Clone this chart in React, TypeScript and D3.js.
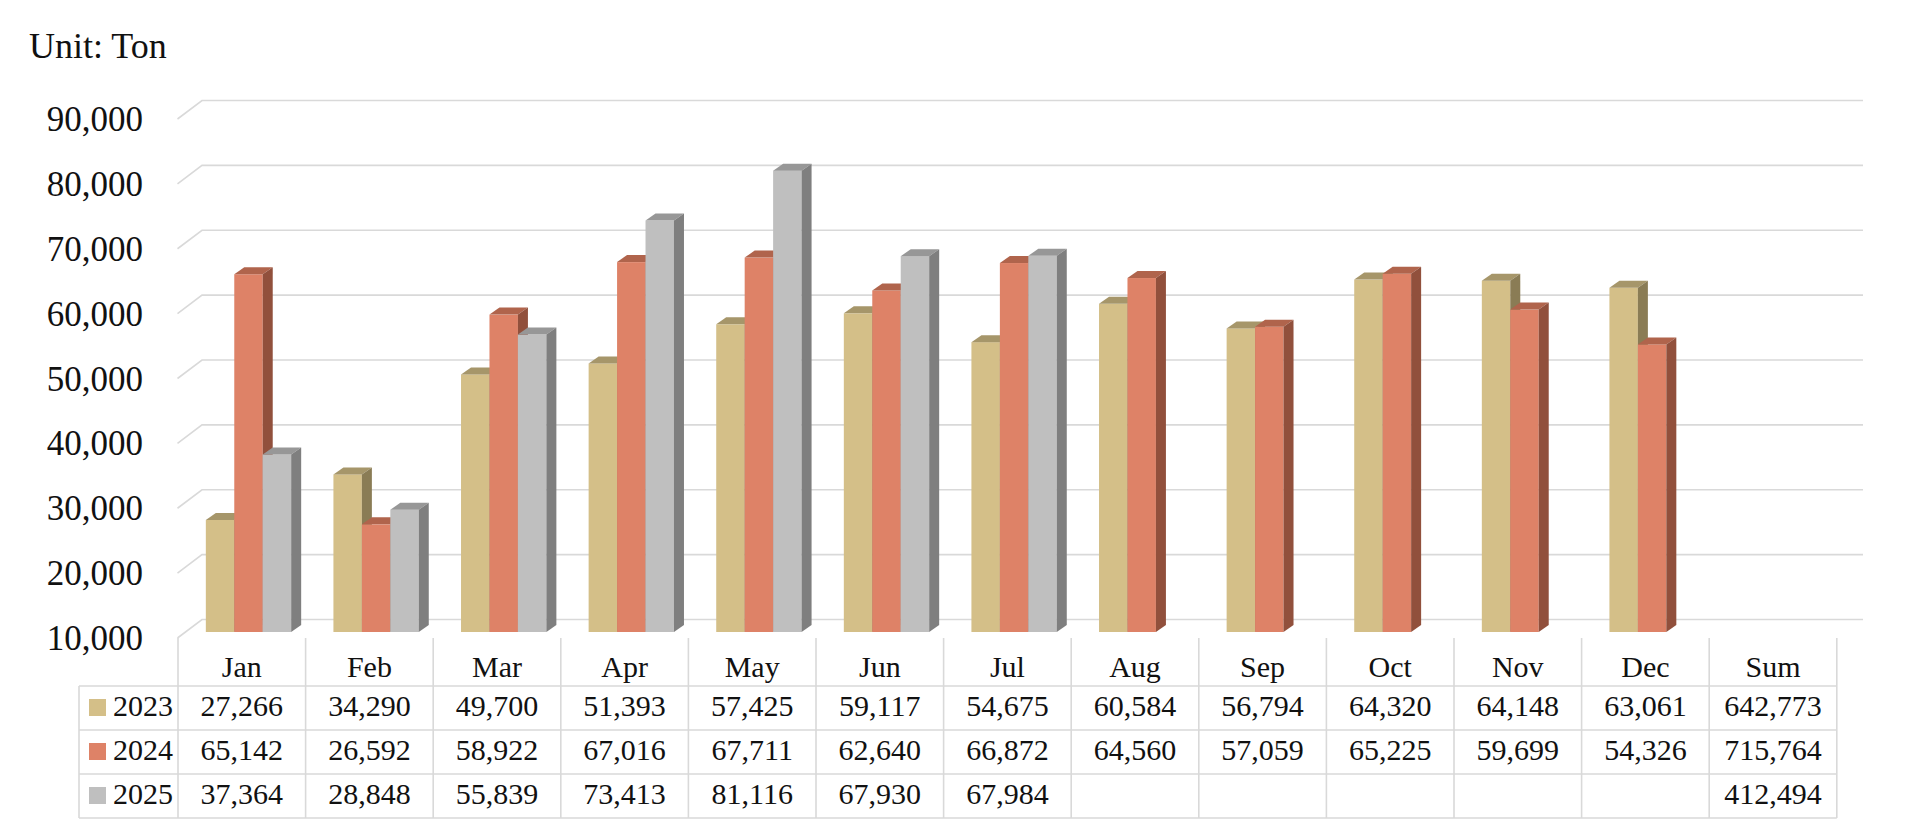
import React from "react";
import * as d3 from "d3";

const months = ["Jan","Feb","Mar","Apr","May","Jun","Jul","Aug","Sep","Oct","Nov","Dec"];
const series = ["2023","2024","2025"];
const v2023: (number|null)[] = [27266,34290,49700,51393,57425,59117,54675,60584,56794,64320,64148,63061];
const v2024: (number|null)[] = [65142,26592,58922,67016,67711,62640,66872,64560,57059,65225,59699,54326];
const v2025: (number|null)[] = [37364,28848,55839,73413,81116,67930,67984,null,null,null,null,null];
const sums = ["642,773","715,764","412,494"];
const yTicks = [10000,20000,30000,40000,50000,60000,70000,80000,90000];

const values = [v2023, v2024, v2025];
const colors = [
  { front: "#D4BF88", top: "#A6966A", side: "#8A7C55" },
  { front: "#DE8267", top: "#B0644C", side: "#91503C" },
  { front: "#BFBFBF", top: "#979797", side: "#7F7F7F" },
];

const FONT = "'Liberation Serif', 'DejaVu Serif', serif";

export default function App() {
  const W = 1920, H = 832;
  const yBack = d3.scaleLinear().domain([10000, 90000]).range([619.5, 100.5]);
  const depthX = 24.5, depthY = 18.5;
  const yBar = d3.scaleLinear().domain([10000, 90000]).range([632, 632 - 519]);
  const colW = 127.6;
  const tableX0 = 178;
  const barPlaneX0 = 184.7;
  const xCat = d3.scaleBand<string>().domain(months).range([barPlaneX0, barPlaneX0 + colW * 12]).padding(0);
  const barW = 28.45;
  const xSer = d3.scaleBand<string>().domain(series).range([0, barW * 3]).padding(0);
  const groupOff = (xCat.bandwidth() - barW * 3) / 2;
  const bdx = 10, bdy = 7;
  const gridRight = 1863;

  const rowTop = 686, rowH = 44;
  const tableCols = [...months, "Sum"];
  const tableRight = tableX0 + colW * tableCols.length;
  const fmt = d3.format(",");

  const bars: React.ReactNode[] = [];
  months.forEach((m, i) => {
    series.forEach((s, j) => {
      const v = values[j][i];
      if (v == null) return;
      const x = (xCat(m) as number) + groupOff + (xSer(s) as number);
      const y = yBar(v);
      const b = yBar(10000);
      const c = colors[j];
      bars.push(
        <g key={m + s}>
          <rect x={x} y={y} width={barW} height={b - y} fill={c.front} />
          <polygon points={`${x},${y} ${x + barW},${y} ${x + barW + bdx},${y - bdy} ${x + bdx},${y - bdy}`} fill={c.top} />
          <polygon points={`${x + barW},${y} ${x + barW + bdx},${y - bdy} ${x + barW + bdx},${b - bdy} ${x + barW},${b}`} fill={c.side} />
        </g>
      );
    });
  });

  return (
    <svg width={W} height={H} style={{ display: "block", position: "absolute", left: 0, top: 0 }} fontFamily={FONT}>
      <rect width={W} height={H} fill="#fff" />
      <text x={29} y={58} fontSize={36} fill="#111">Unit: Ton</text>
      {yTicks.map((t) => {
        const y = yBack(t);
        return (
          <g key={t}>
            <polyline points={`${tableX0 - 0.5},${y + depthY} ${tableX0 - 0.5 + depthX},${y} ${gridRight},${y}`} fill="none" stroke="#D9D9D9" strokeWidth={1.6} />
            <text x={143} y={y + depthY + 12} fontSize={35} textAnchor="end" fill="#111">{fmt(t)}</text>
          </g>
        );
      })}
      {bars}
      <g stroke="#D9D9D9" strokeWidth={1.6} fill="none">
        {d3.range(tableCols.length + 1).map((k) => (
          <line key={"v" + k} x1={tableX0 + k * colW} x2={tableX0 + k * colW} y1={yBack(10000) + depthY} y2={rowTop + rowH * 3} />
        ))}
        <line x1={79} x2={79} y1={rowTop} y2={rowTop + rowH * 3} />
        {d3.range(4).map((r) => (
          <line key={"h" + r} x1={79} x2={tableRight} y1={rowTop + r * rowH} y2={rowTop + r * rowH} />
        ))}
      </g>
      {tableCols.map((m, k) => (
        <text key={"hd" + m} x={tableX0 + (k + 0.5) * colW} y={677} fontSize={30} textAnchor="middle" fill="#111">{m}</text>
      ))}
      {series.map((s, j) => (
        <g key={"row" + s}>
          <rect x={89} y={rowTop + j * rowH + 13} width={17} height={17} fill={colors[j].front} />
          <text x={113} y={rowTop + j * rowH + 30} fontSize={30} fill="#111">{s}</text>
          {months.map((m, i) => {
            const v = values[j][i];
            return v == null ? null : (
              <text key={m} x={tableX0 + (i + 0.5) * colW} y={rowTop + j * rowH + 30} fontSize={30} textAnchor="middle" fill="#111">{fmt(v)}</text>
            );
          })}
          <text x={tableX0 + 12.5 * colW} y={rowTop + j * rowH + 30} fontSize={30} textAnchor="middle" fill="#111">{sums[j]}</text>
        </g>
      ))}
    </svg>
  );
}
